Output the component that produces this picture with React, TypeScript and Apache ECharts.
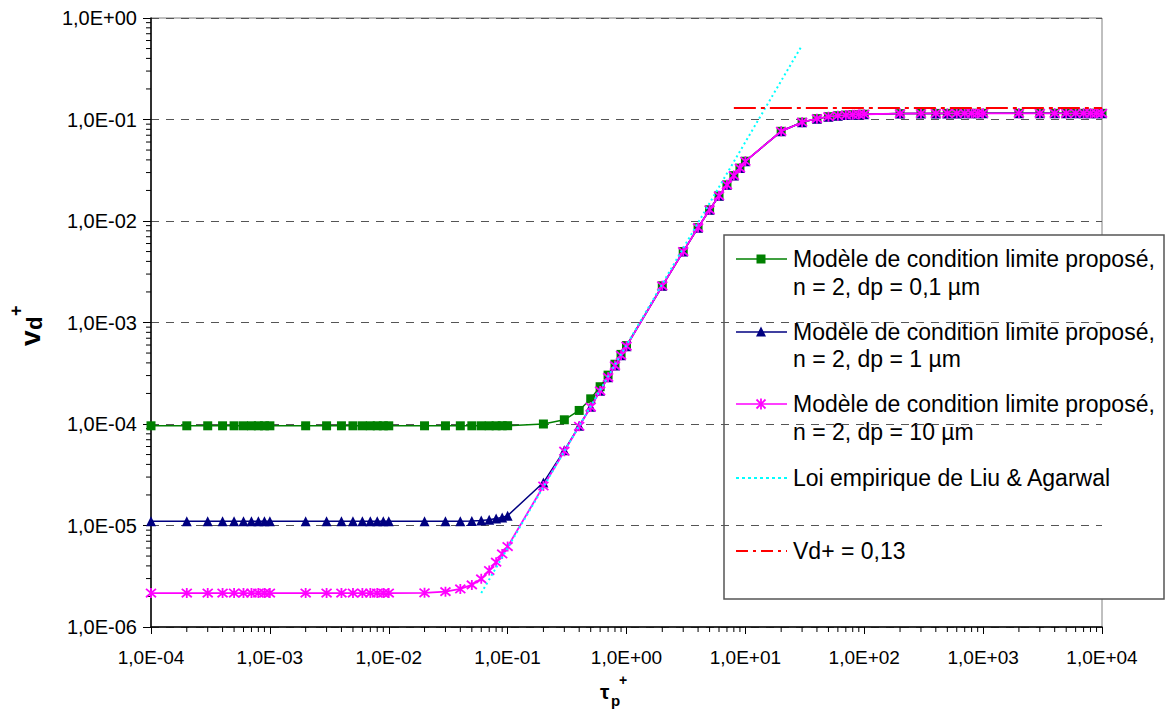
import React, { useEffect, useRef } from 'react';
import * as echarts from 'echarts';

// τp+ sample points (same for the three model curves)
const tau = [
  1e-4, 2e-4, 3e-4, 4e-4, 5e-4, 6e-4, 7e-4, 8e-4, 9e-4,
  1e-3, 2e-3, 3e-3, 4e-3, 5e-3, 6e-3, 7e-3, 8e-3, 9e-3,
  0.01, 0.02, 0.03, 0.04, 0.05, 0.06, 0.07, 0.08, 0.09,
  0.1, 0.2, 0.3, 0.4, 0.5, 0.6, 0.7, 0.8, 0.9,
  1, 2, 3, 4, 5, 6, 7, 8, 9,
  10, 20, 30, 40, 50, 60, 70, 80, 90,
  100, 200, 300, 400, 500, 600, 700, 800, 900,
  1000, 2000, 3000, 4000, 5000, 6000, 7000, 8000, 9000,
  10000,
];

// Modèle, dp = 0,1 µm
const vdDp01 = [
  9.6e-5, 9.6e-5, 9.6e-5, 9.6e-5, 9.6e-5, 9.6e-5, 9.6e-5, 9.6e-5, 9.6e-5,
  9.6e-5, 9.6e-5, 9.6e-5, 9.6e-5, 9.6e-5, 9.6e-5, 9.6e-5, 9.6e-5, 9.6e-5,
  9.6e-5, 9.6e-5, 9.6e-5, 9.6e-5, 9.6e-5, 9.6e-5, 9.6e-5, 9.6e-5, 9.61e-5,
  9.62e-5, 1.0e-4, 1.1e-4, 1.36e-4, 1.77e-4, 2.33e-4, 3.03e-4, 3.88e-4, 4.85e-4,
  5.93e-4, 2.3e-3, 5.0e-3, 8.6e-3, 1.29e-2, 1.77e-2, 2.27e-2, 2.8e-2, 3.32e-2,
  3.88e-2, 7.65e-2, 9.4e-2, 0.102, 0.1066, 0.109, 0.1105, 0.1115, 0.1122,
  0.1127, 0.1143, 0.1146, 0.1148, 0.1149, 0.1149, 0.115, 0.115, 0.115,
  0.115, 0.115, 0.115, 0.115, 0.115, 0.115, 0.115, 0.115, 0.115,
  0.115,
];

// Modèle, dp = 1 µm
const vdDp1 = [
  1.1e-5, 1.1e-5, 1.1e-5, 1.1e-5, 1.1e-5, 1.1e-5, 1.1e-5, 1.1e-5, 1.1e-5,
  1.1e-5, 1.1e-5, 1.1e-5, 1.1e-5, 1.1e-5, 1.1e-5, 1.1e-5, 1.1e-5, 1.1e-5,
  1.1e-5, 1.1e-5, 1.1e-5, 1.1e-5, 1.11e-5, 1.12e-5, 1.14e-5, 1.17e-5, 1.2e-5,
  1.25e-5, 2.65e-5, 5.5e-5, 9.6e-5, 1.475e-4, 2.13e-4, 2.885e-4, 3.765e-4, 4.755e-4,
  5.85e-4, 2.3e-3, 5.0e-3, 8.6e-3, 1.29e-2, 1.77e-2, 2.27e-2, 2.8e-2, 3.32e-2,
  3.88e-2, 7.65e-2, 9.4e-2, 0.102, 0.1066, 0.109, 0.1105, 0.1115, 0.1122,
  0.1127, 0.1143, 0.1146, 0.1148, 0.1149, 0.1149, 0.115, 0.115, 0.115,
  0.115, 0.115, 0.115, 0.115, 0.115, 0.115, 0.115, 0.115, 0.115,
  0.115,
];

// Modèle, dp = 10 µm
const vdDp10 = [
  2.16e-6, 2.16e-6, 2.16e-6, 2.16e-6, 2.16e-6, 2.16e-6, 2.16e-6, 2.16e-6, 2.16e-6,
  2.16e-6, 2.16e-6, 2.16e-6, 2.16e-6, 2.16e-6, 2.16e-6, 2.16e-6, 2.16e-6, 2.16e-6,
  2.16e-6, 2.17e-6, 2.23e-6, 2.37e-6, 2.6e-6, 2.98e-6, 3.6e-6, 4.35e-6, 5.25e-6,
  6.2e-6, 2.45e-5, 5.4e-5, 9.5e-5, 1.47e-4, 2.12e-4, 2.88e-4, 3.76e-4, 4.75e-4,
  5.85e-4, 2.3e-3, 5.0e-3, 8.6e-3, 1.29e-2, 1.77e-2, 2.27e-2, 2.8e-2, 3.32e-2,
  3.88e-2, 7.65e-2, 9.4e-2, 0.102, 0.1066, 0.109, 0.1105, 0.1115, 0.1122,
  0.1127, 0.1143, 0.1146, 0.1148, 0.1149, 0.1149, 0.115, 0.115, 0.115,
  0.115, 0.115, 0.115, 0.115, 0.115, 0.115, 0.115, 0.115, 0.115,
  0.115,
];

// Loi empirique de Liu & Agarwal
const liuTau = [0.06, 0.1, 1, 10, 30];
const liuVd = [2.16e-6, 6e-6, 6e-4, 6e-2, 0.54];

// Vd+ = 0,13
const limTau = [8, 10000];
const limVd = [0.13, 0.13];

const seriesNames = [
  'Modèle de condition limite proposé,\nn = 2, dp = 0,1 µm',
  'Modèle de condition limite proposé,\nn = 2, dp = 1 µm',
  'Modèle de condition limite proposé,\nn = 2, dp = 10 µm',
  'Loi empirique de Liu & Agarwal',
  'Vd+ = 0,13',
];

const xDecades = [-4, -3, -2, -1, 0, 1, 2, 3];
const yDecades = [-6, -5, -4, -3, -2, -1];
const minorMult = [2, 3, 4, 5, 6, 7, 8, 9];

const FONT = '"Liberation Sans", Arial, Helvetica, sans-serif';
const GREEN = '#008000';
const NAVY = '#000080';
const MAGENTA = '#FF00FF';
const CYAN = '#00FFFF';
const RED = '#FF0000';

const ASTERISK = 'path://M0,0L10,10M10,0L0,10M5,-1L5,11';

function sciLabel(v: number): string {
  const e = Math.round(Math.log10(v));
  const s = e < 0 ? '-' : '+';
  return '1,0E' + s + String(Math.abs(e)).padStart(2, '0');
}

function zip(xs: number[], ys: number[]) {
  return xs.map((x, i) => [x, ys[i]]);
}

export default function App() {
  const ref = useRef<HTMLDivElement>(null);

  useEffect(() => {
    if (!ref.current) return;
    const chart = echarts.init(ref.current, undefined, { renderer: 'svg' });

    const xMinor: number[][] = [];
    xDecades.forEach((d) => minorMult.forEach((m) => xMinor.push([m * Math.pow(10, d), 1e-6])));
    const yMinor: number[][] = [];
    yDecades.forEach((d) => minorMult.forEach((m) => yMinor.push([1e-4, m * Math.pow(10, d)])));

    const legendX = 724;
    const legendY = 235;
    const sx1 = 736;
    const sx2 = 787;
    const mx = 761;
    const tx = 793;
    const rows = [259, 332, 404, 478, 551];
    const row2 = [287, 359, 432];
    const legendFont = { fontSize: 23, fontFamily: FONT, fill: '#000' };

    const legendChildren: any[] = [
      {
        type: 'rect',
        shape: { x: legendX, y: legendY, width: 440, height: 364 },
        style: { fill: '#fff', stroke: '#555', lineWidth: 1.5 },
      },
      // samples
      { type: 'line', shape: { x1: sx1, y1: rows[0], x2: sx2, y2: rows[0] }, style: { stroke: GREEN, lineWidth: 1.5 } },
      { type: 'rect', shape: { x: mx - 4.5, y: rows[0] - 4.5, width: 9, height: 9 }, style: { fill: GREEN } },
      { type: 'line', shape: { x1: sx1, y1: rows[1], x2: sx2, y2: rows[1] }, style: { stroke: NAVY, lineWidth: 1.5 } },
      { type: 'polygon', shape: { points: [[mx, rows[1] - 5.5], [mx - 5, rows[1] + 4.5], [mx + 5, rows[1] + 4.5]] }, style: { fill: NAVY } },
      { type: 'line', shape: { x1: sx1, y1: rows[2], x2: sx2, y2: rows[2] }, style: { stroke: MAGENTA, lineWidth: 1.5 } },
      { type: 'line', shape: { x1: mx - 4.5, y1: rows[2] - 4.5, x2: mx + 4.5, y2: rows[2] + 4.5 }, style: { stroke: MAGENTA, lineWidth: 1.8 } },
      { type: 'line', shape: { x1: mx + 4.5, y1: rows[2] - 4.5, x2: mx - 4.5, y2: rows[2] + 4.5 }, style: { stroke: MAGENTA, lineWidth: 1.8 } },
      { type: 'line', shape: { x1: mx, y1: rows[2] - 5.5, x2: mx, y2: rows[2] + 5.5 }, style: { stroke: MAGENTA, lineWidth: 1.8 } },
      { type: 'line', shape: { x1: sx1, y1: rows[3], x2: sx2, y2: rows[3] }, style: { stroke: CYAN, lineWidth: 2, lineDash: [3, 3] } },
      { type: 'line', shape: { x1: sx1, y1: rows[4], x2: sx2, y2: rows[4] }, style: { stroke: RED, lineWidth: 2, lineDash: [12, 5, 3, 5] } },
    ];
    seriesNames.forEach((name, i) => {
      const parts = name.split('\n');
      legendChildren.push({
        type: 'text',
        style: { ...legendFont, text: parts[0], x: tx, y: rows[i], align: 'left', verticalAlign: 'middle' },
      });
      if (parts[1]) {
        legendChildren.push({
          type: 'text',
          style: { ...legendFont, text: parts[1], x: tx, y: row2[i], align: 'left', verticalAlign: 'middle' },
        });
      }
    });

    const boldT = { fontFamily: FONT, fontWeight: 'bold', fill: '#000' };

    const option: any = {
      animation: false,
      backgroundColor: '#fff',
      textStyle: { fontFamily: FONT },
      grid: {
        left: 151,
        right: 64,
        top: 18,
        bottom: 85,
        show: true,
        borderColor: '#808080',
        borderWidth: 1,
        backgroundColor: 'transparent',
      },
      xAxis: {
        type: 'log',
        logBase: 10,
        min: 1e-4,
        max: 1e4,
        splitNumber: 8,
        axisLine: { show: true, lineStyle: { color: '#000', width: 1.5 } },
        axisTick: { show: true, length: 7, lineStyle: { color: '#000' } },
        axisLabel: { formatter: sciLabel, fontSize: 19, color: '#000', margin: 21, fontFamily: FONT },
        splitLine: { show: false },
        minorTick: { show: false },
      },
      yAxis: {
        type: 'log',
        logBase: 10,
        min: 1e-6,
        max: 1,
        splitNumber: 6,
        axisLine: { show: true, lineStyle: { color: '#000', width: 1.5 } },
        axisTick: { show: true, length: 8, lineStyle: { color: '#000' } },
        axisLabel: { formatter: sciLabel, fontSize: 20, color: '#000', margin: 14, fontFamily: FONT },
        splitLine: { show: true, lineStyle: { color: '#555', width: 1, type: [8, 7] } },
      },
      series: [
        {
          type: 'custom',
          silent: true,
          clip: false,
          data: xMinor,
          renderItem: (_p: any, api: any) => {
            const c = api.coord([api.value(0), api.value(1)]);
            return {
              type: 'line',
              shape: { x1: c[0], y1: c[1], x2: c[0], y2: c[1] + 5 },
              style: { stroke: '#000', lineWidth: 1 },
            };
          },
        },
        {
          type: 'custom',
          silent: true,
          clip: false,
          data: yMinor,
          renderItem: (_p: any, api: any) => {
            const c = api.coord([api.value(0), api.value(1)]);
            return {
              type: 'line',
              shape: { x1: c[0] - 5, y1: c[1], x2: c[0], y2: c[1] },
              style: { stroke: '#000', lineWidth: 1 },
            };
          },
        },
        {
          name: seriesNames[0],
          type: 'line',
          data: zip(tau, vdDp01),
          symbol: 'rect',
          symbolSize: 9,
          lineStyle: { color: GREEN, width: 1.5 },
          itemStyle: { color: GREEN },
          z: 3,
        },
        {
          name: seriesNames[1],
          type: 'line',
          data: zip(tau, vdDp1),
          symbol: 'triangle',
          symbolSize: 10,
          lineStyle: { color: NAVY, width: 1.5 },
          itemStyle: { color: NAVY },
          z: 4,
        },
        {
          name: seriesNames[2],
          type: 'line',
          data: zip(tau, vdDp10),
          symbol: ASTERISK,
          symbolSize: 10,
          lineStyle: { color: MAGENTA, width: 1.8 },
          itemStyle: { color: MAGENTA, borderColor: MAGENTA, borderWidth: 1.8 },
          z: 5,
        },
        {
          name: seriesNames[3],
          type: 'line',
          data: zip(liuTau, liuVd),
          symbol: 'none',
          lineStyle: { color: CYAN, width: 2, type: [2, 3] },
          z: 6,
        },
        {
          name: seriesNames[4],
          type: 'line',
          data: zip(limTau, limVd),
          symbol: 'none',
          lineStyle: { color: RED, width: 2, type: [22, 5, 4, 5] },
          z: 6,
        },
      ],
      graphic: [
        { type: 'group', z: 100, children: legendChildren },
        // x axis title τp+
        { type: 'text', z: 100, style: { ...boldT, text: 'τ', fontSize: 21, x: 600, y: 691, align: 'left', verticalAlign: 'middle' } },
        { type: 'text', z: 100, style: { ...boldT, text: 'p', fontSize: 15, x: 611, y: 700, align: 'left', verticalAlign: 'middle' } },
        { type: 'text', z: 100, style: { ...boldT, text: '+', fontSize: 14, x: 619, y: 680, align: 'left', verticalAlign: 'middle' } },
        // y axis title vd+
        {
          type: 'group',
          z: 100,
          x: 30,
          y: 346,
          rotation: Math.PI / 2,
          children: [
            { type: 'text', style: { ...boldT, text: 'v', fontSize: 28, x: 0, y: 0, align: 'left', verticalAlign: 'middle' } },
            { type: 'text', style: { ...boldT, text: 'd', fontSize: 22, x: 16, y: 4, align: 'left', verticalAlign: 'middle' } },
            { type: 'text', style: { ...boldT, text: '+', fontSize: 18, x: 30, y: -14, align: 'left', verticalAlign: 'middle' } },
          ],
        },
      ],
    };

    chart.setOption(option);
    return () => chart.dispose();
  }, []);

  return (
    <div
      ref={ref}
      style={{ position: 'absolute', left: 0, top: 0, width: 1166, height: 712, background: '#fff' }}
    />
  );
}
